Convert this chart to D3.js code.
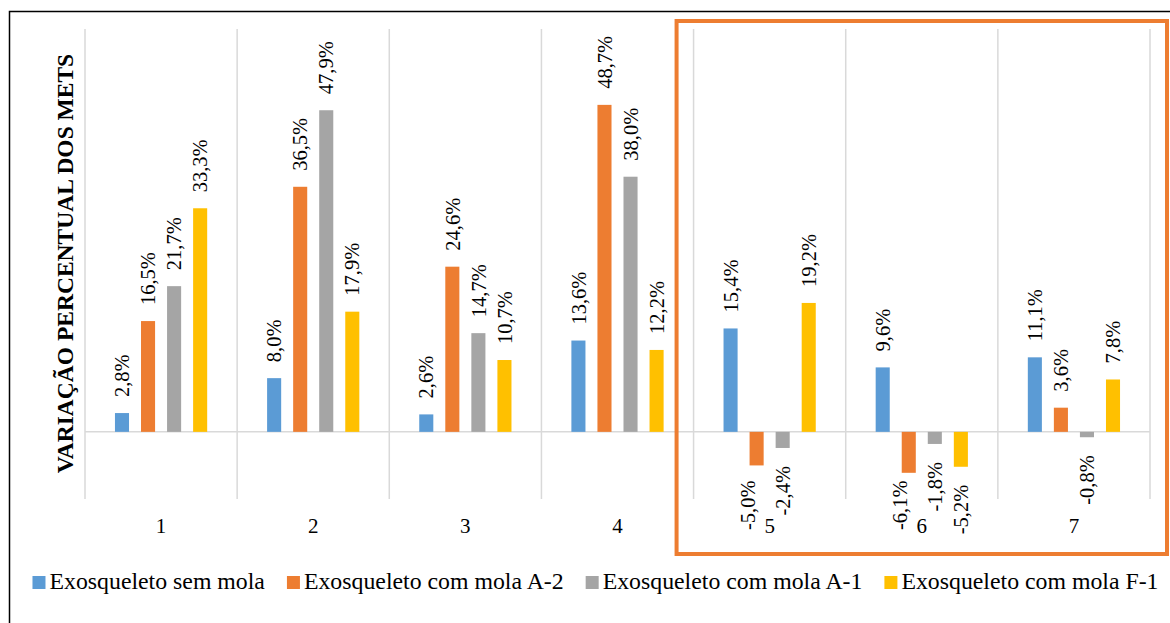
<!DOCTYPE html>
<html>
<head>
<meta charset="utf-8">
<script src="https://cdn.jsdelivr.net/npm/d3@7"></script>
<style>
  body { margin: 0; background: #fff; }
  svg text { font-family: "Liberation Serif", "Times New Roman", "DejaVu Serif", serif; }
</style>
</head>
<body>
<div id="chart"></div>
<script>
var width = 1170
var height = 623

// data
var categories = ["1", "2", "3", "4", "5", "6", "7"]
var seriesNames = ["Exosqueleto sem mola", "Exosqueleto com mola A-2",
                   "Exosqueleto com mola A-1", "Exosqueleto com mola F-1"]
var semMola = [2.8, 8.0, 2.6, 13.6, 15.4, 9.6, 11.1]
var molaA2 = [16.5, 36.5, 24.6, 48.7, -5.0, -6.1, 3.6]
var molaA1 = [21.7, 47.9, 14.7, 38.0, -2.4, -1.8, -0.8]
var molaF1 = [33.3, 17.9, 10.7, 12.2, 19.2, -5.2, 7.8]
var colors = ["#5B9BD5", "#ED7D31", "#A5A5A5", "#FFC000"]
var highlighted = ["5", "6", "7"]

var seriesValues = [semMola, molaA2, molaA1, molaF1]

var margin = {top: 29, left: 85, right: 20, bottom: 124}
var plotW = 1150 - margin.left
var plotH = height - margin.top - margin.bottom

var svg = d3.select("#chart")
    .append("svg")
    .attr("width", width)
    .attr("height", height)

// outer chart border
svg.append("rect")
    .attr("x", 9.5)
    .attr("y", 11.5)
    .attr("width", width)
    .attr("height", height)
    .attr("fill", "none")
    .attr("stroke", "#000")
    .attr("stroke-width", 1.5)

var g = svg.append("g")
    .attr("transform", "translate(" + margin.left + "," + margin.top + ")")

var x0 = d3.scaleBand()
    .domain(categories)
    .range([0, plotW])

var x1 = d3.scaleBand()
    .domain(seriesNames)
    .range([0, x0.bandwidth()])
    .paddingInner(0.46)
    .paddingOuter(1.15)

var y = d3.scaleLinear()
    .domain([-10, 60])
    .range([plotH, 0])

// vertical category separators
var seps = d3.range(categories.length + 1)
g.selectAll("line.sep")
    .data(seps)
    .enter().append("line")
    .attr("class", "sep")
    .attr("x1", d => d * x0.step())
    .attr("x2", d => d * x0.step())
    .attr("y1", 0)
    .attr("y2", plotH)
    .attr("stroke", "#d9d9d9")
    .attr("stroke-width", 1.5)

// zero line
g.append("line")
    .attr("x1", 0)
    .attr("x2", plotW)
    .attr("y1", y(0))
    .attr("y2", y(0))
    .attr("stroke", "#d9d9d9")
    .attr("stroke-width", 1.5)

var rows = []
categories.forEach(function(c, i) {
    seriesNames.forEach(function(s, j) {
        rows.push({cat: c, series: s, idx: j, value: seriesValues[j][i]})
    })
})

g.selectAll("rect.bar")
    .data(rows)
    .enter().append("rect")
    .attr("class", "bar")
    .attr("x", d => x0(d.cat) + x1(d.series))
    .attr("width", x1.bandwidth())
    .attr("y", d => y(Math.max(0, d.value)))
    .attr("height", d => Math.abs(y(d.value) - y(0)))
    .attr("fill", d => colors[d.idx])

// category labels
var catY = 533 - margin.top
var catText = g.selectAll("text.cat")
    .data(categories)
    .enter().append("text")
    .attr("class", "cat")
    .attr("x", d => x0(d) + x0.bandwidth() / 2)
    .attr("y", catY)
    .attr("text-anchor", "middle")
    .attr("font-size", 21)
    .attr("fill", "#000")
    .text(d => d)

var catBox = {}
catText.each(function(d) { catBox[d] = this.getBBox() })

var fmt = function(v) { return v.toFixed(1).replace(".", ",") + "%" }

// data labels, rotated; negative ones step aside of the category label
g.selectAll("text.lbl")
    .data(rows)
    .enter().append("text")
    .attr("class", "lbl")
    .attr("dy", "0.35em")
    .attr("font-size", 20.5)
    .attr("fill", "#000")
    .text(d => fmt(d.value))
    .each(function(d) {
        var t = d3.select(this)
        var len = this.getComputedTextLength()
        var cx = x0(d.cat) + x1(d.series) + x1.bandwidth() / 2
        var ty, anchor
        if (d.value >= 0) {
            ty = y(d.value) - 16
            anchor = "start"
        } else {
            var top = y(d.value) + 18
            var b = catBox[d.cat]
            var hit = top + len > b.y && cx + 9 > b.x && cx - 9 < b.x + b.width - 2
            if (hit) {
                top = catY - 3 - len
                cx = b.x - 17
            }
            ty = top
            anchor = "end"
        }
        t.attr("text-anchor", anchor)
            .attr("transform", "translate(" + cx + "," + ty + ") rotate(-90)")
    })

// y axis title
svg.append("text")
    .attr("transform", "translate(73," + (margin.top + plotH / 2 - 0.5) + ") rotate(-90)")
    .attr("text-anchor", "middle")
    .attr("font-size", 23.5)
    .attr("font-weight", "bold")
    .attr("fill", "#000")
    .text("VARIAÇÃO PERCENTUAL DOS METS")

// highlight box around the last groups
var hx0 = x0(highlighted[0])
var hx1 = x0(highlighted[highlighted.length - 1]) + x0.bandwidth()
svg.append("rect")
    .attr("x", margin.left + hx0 - 17)
    .attr("y", 21)
    .attr("width", hx1 - hx0 + 34)
    .attr("height", 533)
    .attr("fill", "none")
    .attr("stroke", "#ED7D31")
    .attr("stroke-width", 4)

// legend
var legend = svg.append("g")
var lx = 0
seriesNames.forEach(function(name, i) {
    var item = legend.append("g").attr("transform", "translate(" + lx + ",0)")
    item.append("rect")
        .attr("x", 0)
        .attr("y", 576)
        .attr("width", 13)
        .attr("height", 13)
        .attr("fill", colors[i])
    var t = item.append("text")
        .attr("x", 17)
        .attr("y", 589)
        .attr("font-size", 23.8)
        .attr("fill", "#000")
        .text(name)
    lx += 17 + t.node().getComputedTextLength() + 22
})
var legendW = lx - 22
legend.attr("transform", "translate(" + (595.5 - legendW / 2) + ",0)")
</script>
</body>
</html>
